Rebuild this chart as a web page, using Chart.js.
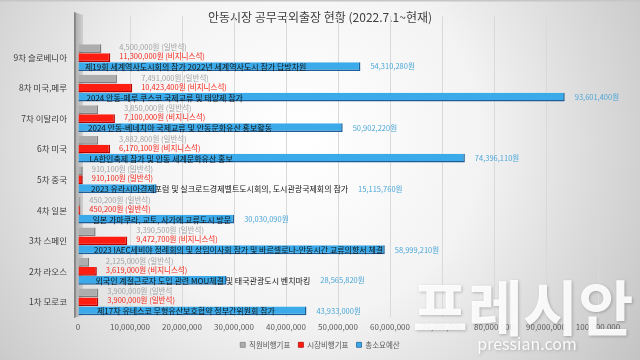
<!DOCTYPE html>
<html><head><meta charset="utf-8">
<script src="https://cdn.jsdelivr.net/npm/chart.js@4/dist/chart.umd.min.js"></script>
<style>html,body{margin:0;padding:0;background:#fff}canvas{display:block}</style>
</head><body>
<canvas id="c" width="640" height="360"></canvas>
<script>
// ---- data (top row to bottom row) ----
const categories = ['9차 슬로베니아','8차 미국,페루','7차 이탈리아','6차 미국','5차 중국','4차 일본','3차 스페인','2차 라오스','1차 모로코'];
const staffFare = [4500000, 7491000, 3850000, 3882800, 910100, 450200, 3390500, 2125000, 3900000];
const staffSeatText = ['(일반석)','(일반석)','(일반석)','(일반석)','(일반석)','(일반석)','(일반석)','(일반석)','(일반석'];
const mayorFare = [6200000, 10423400, 7100000, 6170100, 910100, 450200, 9472700, 3619000, 3900000];
const mayorFareStated = [11300000, 10423400, 7100000, 6170100, 910100, 450200, 9472700, 3619000, 3900000];
const mayorSeat = ['비지니스석','비지니스석','비지니스석','비지니스석','일반석','일반석','비지니스석','비지니스석','일반석'];
const totalBudget = [54310280, 93601400, 50902220, 74396110, 15115760, 30030090, 58999210, 28565820, 43933000];
const tripPurpose = [
  '제19회 세계역사도시회의 참가 2022년 세계역사도시 참가 답방차원',
  '2024 안동-페루 쿠스코 국제교류 및 태양제 참가',
  '2024 안동-베네치아 국제교류 및 안동문화유산 홍보활동',
  'LA한인축제 참가 및 안동 세계문화유산 홍보',
  '2023 유라시아경제포럼 및 실크로드경제벨트도시회의, 도시관광국제회의 참가',
  '일본 가마쿠라, 교토, 사가에 교류도시 방문',
  '2023 IAEC세비야 정례회의 및 상임이사회 참가 및 바르셀로나-안동시간 교류의향서 체결',
  '외국인 계절근로자 도입 관련 MOU체결 및 태국관광도시 벤치마킹',
  '제17차 유네스코 무형유산보호협약 정부간위원회 참가'
];
const seriesNames = ['직원비행기표','시장비행기표','총소요예산'];
const xTicksMax = 100000000;
const xTickStep = 10000000;
const titleText = '안동시장 공무국외출장 현황 (2022.7.1~현재)';

const FONT = "'Noto Sans CJK KR', 'Noto Sans', sans-serif";
const fmt = v => v.toLocaleString('en-US');

const decorPlugin = {
  id: 'decor',
  beforeDraw(chart) {
    const {ctx, width, height} = chart;
    ctx.save();
    const g = ctx.createRadialGradient(300, 140, 10, 300, 140, 440);
    g.addColorStop(0, '#ffffff');
    g.addColorStop(0.4, '#f3f3f3');
    g.addColorStop(1, '#bcbcbc');
    ctx.fillStyle = g;
    ctx.fillRect(0, 0, width, height);
    ctx.fillStyle = '#c6c6c6';
    ctx.fillRect(0, 0, width, 1.5);
    ctx.restore();
  },
  beforeDatasetsDraw(chart) {
    const {ctx, chartArea} = chart;
    const xs = chart.scales.x;
    ctx.save();
    ctx.strokeStyle = '#d9d9d9';
    ctx.lineWidth = 1;
    xs.ticks.forEach((t, i) => {
      if (i === 0) return;
      const px = Math.round(xs.getPixelForValue(t.value)) + 0.5;
      ctx.beginPath();
      ctx.moveTo(px, 16);
      ctx.lineTo(px, chartArea.top);
      ctx.stroke();
    });
    const L = chartArea.left;
    const wg = ctx.createLinearGradient(L - 5, 0, L + 5, 0);
    wg.addColorStop(0, '#7a7a7a');
    wg.addColorStop(0.25, '#8c8c8c');
    wg.addColorStop(0.35, '#b4b4b4');
    wg.addColorStop(1, '#cfcfcf');
    ctx.fillStyle = wg;
    ctx.beginPath();
    ctx.moveTo(L - 4, 12);
    ctx.lineTo(L + 5, 15);
    ctx.lineTo(L + 5, chartArea.bottom - 2);
    ctx.lineTo(L - 4, chartArea.bottom + 1);
    ctx.closePath();
    ctx.fill();
    ctx.restore();
  },
  afterDatasetsDraw(chart) {
    const {ctx, chartArea} = chart;
    const mg = chart.getDatasetMeta(0).data;
    const mr = chart.getDatasetMeta(1).data;
    const mb = chart.getDatasetMeta(2).data;
    ctx.save();
    ctx.textBaseline = 'middle';
    ctx.textAlign = 'left';
    categories.forEach((c, i) => {
      const lx = Math.max(mg[i].x, mr[i].x) + 9;
      ctx.font = '7.5px ' + FONT;
      ctx.fillStyle = '#a3a3a3';
      ctx.fillText(fmt(staffFare[i]) + '원 ' + staffSeatText[i], lx, mg[i].y - 1.5);
      ctx.fillStyle = '#f5261b';
      ctx.fillText(fmt(mayorFareStated[i]) + '원 (' + mayorSeat[i] + ')', lx, mr[i].y - 1.5);
      const tx = chartArea.left + 7 + i * 1.5;
      ctx.font = '8px ' + FONT;
      ctx.fillStyle = '#141414';
      ctx.fillText(tripPurpose[i], tx, mb[i].y + 0.5);
      const tw = ctx.measureText(tripPurpose[i]).width;
      const vx = Math.max(mb[i].x, tx + tw) + 10;
      ctx.font = '7.5px ' + FONT;
      ctx.fillStyle = '#4aa6d8';
      ctx.fillText(fmt(totalBudget[i]) + '원', vx, mb[i].y);
    });
    ctx.restore();
  },
  afterDraw(chart) {
    const {ctx} = chart;
    ctx.save();
    ctx.textAlign = 'center';
    ctx.textBaseline = 'middle';
    ctx.shadowColor = 'rgba(0,0,0,0.25)';
    ctx.shadowBlur = 3;
    ctx.shadowOffsetX = 1;
    ctx.shadowOffsetY = 1;
    ctx.fillStyle = 'rgba(255,255,255,0.92)';
    ctx.font = 'bold 60px ' + FONT;
    ctx.fillText('프레시안', 523, 308);
    ctx.font = '16px ' + FONT;
    ctx.fillText('pressian.com', 527, 344);
    ctx.restore();
  }
};

new Chart(document.getElementById('c'), {
  type: 'bar',
  data: {
    labels: categories,
    datasets: [
      { label: seriesNames[0], data: staffFare, xAxisID: 'x', yAxisID: 'y',
        backgroundColor: '#adadad', borderColor: '#7d7d7d',
        borderWidth: {top: 0, right: 1.5, bottom: 1.5, left: 0} },
      { label: seriesNames[1], data: mayorFare, xAxisID: 'x', yAxisID: 'y',
        backgroundColor: '#ff1c10', borderColor: '#b30000',
        borderWidth: {top: 0, right: 1.5, bottom: 1.5, left: 0} },
      { label: seriesNames[2], data: totalBudget, xAxisID: 'x', yAxisID: 'y',
        backgroundColor: '#3aaaea', borderColor: '#1d5e98',
        borderWidth: {top: 0, right: 1.5, bottom: 1.5, left: 0} }
    ]
  },
  options: {
    indexAxis: 'y',
    responsive: false,
    animation: false,
    events: [],
    categoryPercentage: 0.88,
    barPercentage: 0.98,
    layout: { padding: { left: 0, right: 0, top: 0, bottom: 1.4 } },
    scales: {
      x: {
        type: 'linear', min: 0, max: xTicksMax,
        ticks: { stepSize: xTickStep, callback: v => fmt(v), color: '#595959',
                 font: { family: FONT, size: 8 }, padding: 5, maxRotation: 0 },
        grid: { color: c => c.index === 0 ? 'rgba(0,0,0,0)' : '#d9d9d9', drawTicks: false },
        border: { display: false },
        afterFit: s => { s.height = 16; }
      },
      y: {
        type: 'category', position: 'left',
        ticks: { color: '#404040', font: { family: FONT, size: 8.5 }, padding: 11 },
        grid: { display: false, drawTicks: false },
        border: { display: false },
        afterFit: s => { s.width = 78; }
      },
      y2: {
        type: 'linear', position: 'right', display: true,
        ticks: { display: false },
        grid: { display: false, drawTicks: false },
        border: { display: false },
        afterFit: s => { s.width = 42; }
      }
    },
    plugins: {
      title: { display: true, text: titleText, color: '#404040',
               font: { family: FONT, size: 12, weight: 'normal' },
               padding: { top: 10, bottom: 18 } },
      legend: { position: 'bottom',
                labels: { color: '#595959', font: { family: FONT, size: 7.5 },
                          boxWidth: 5, boxHeight: 5, padding: 8 } },
      tooltip: { enabled: false }
    }
  },
  plugins: [decorPlugin]
});
</script>
</body></html>
